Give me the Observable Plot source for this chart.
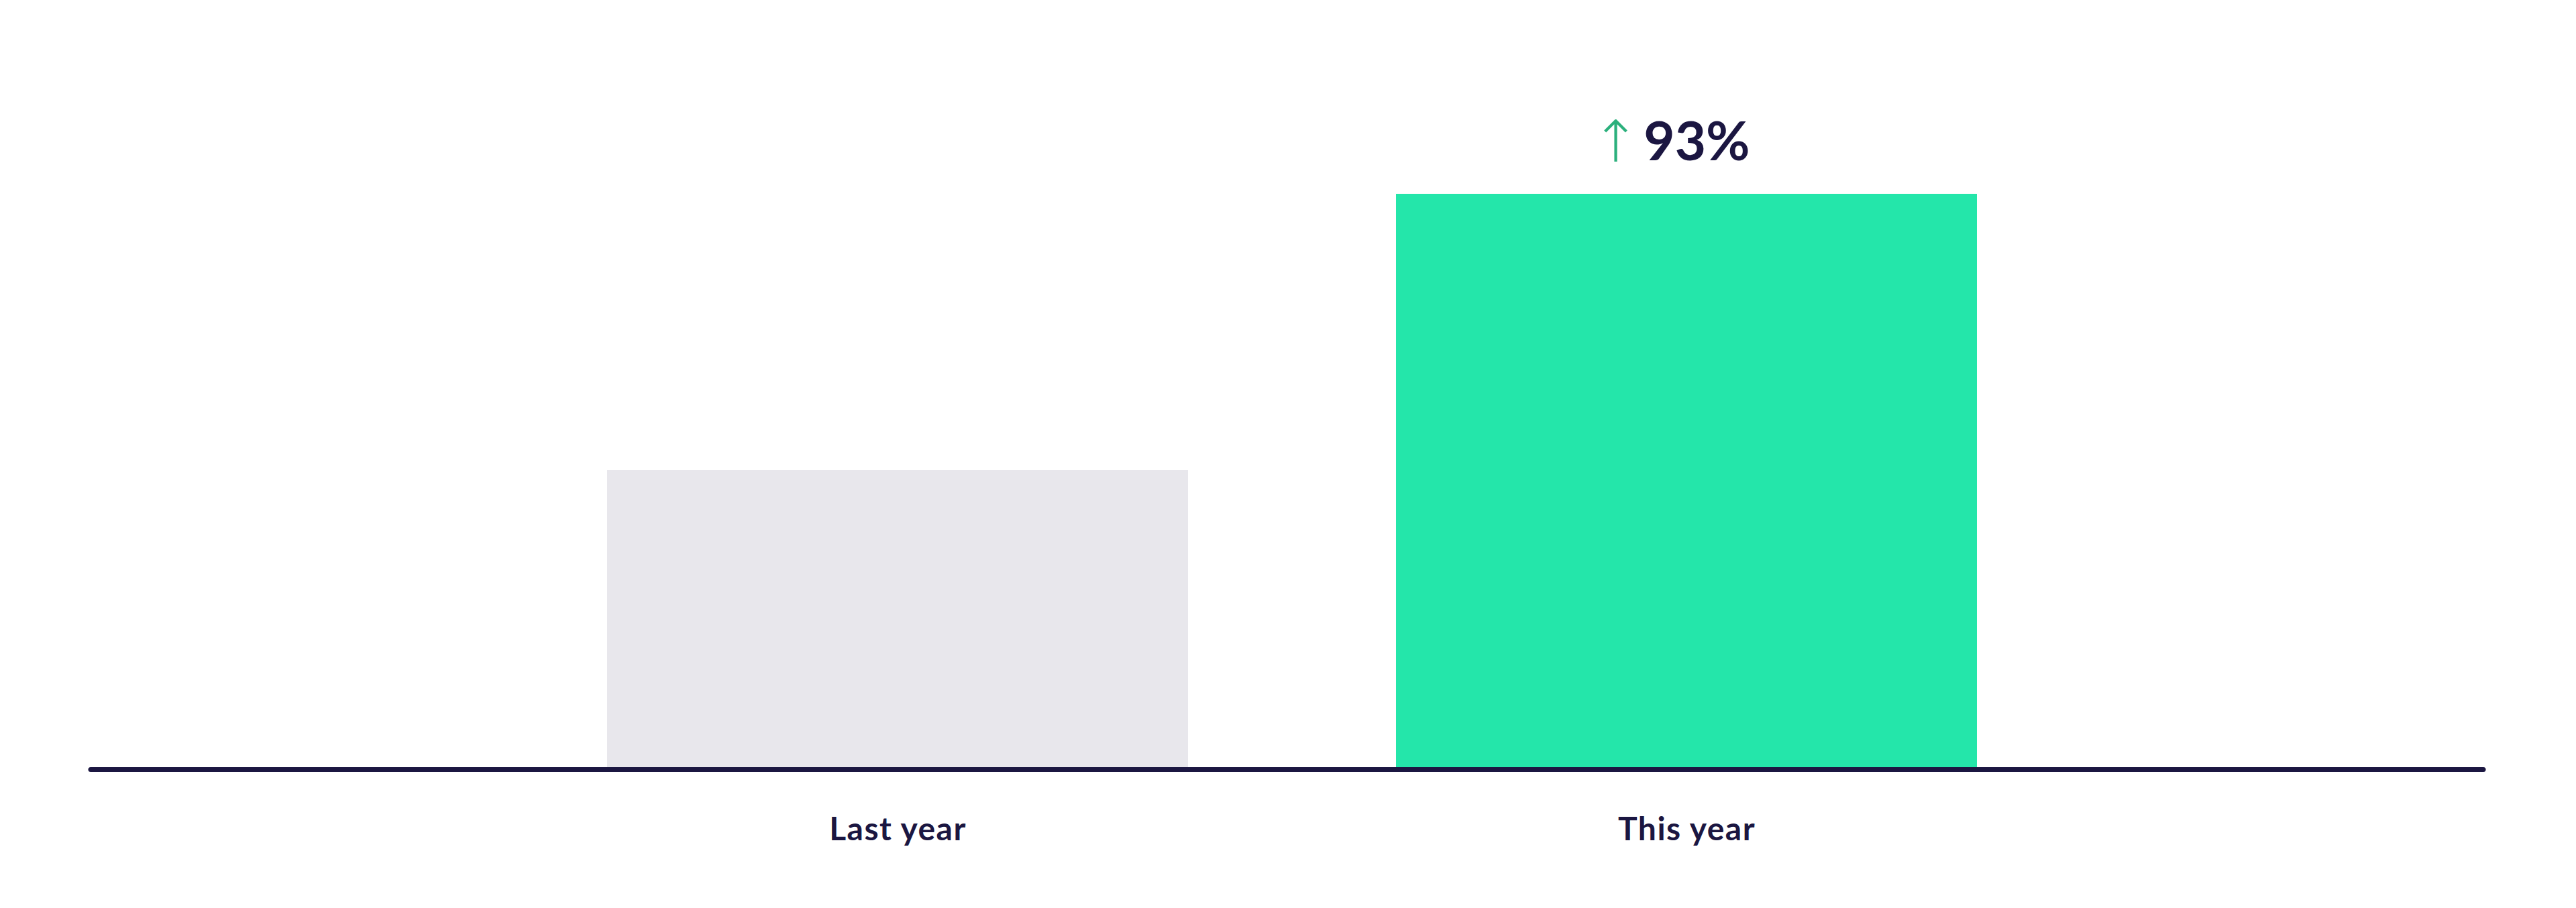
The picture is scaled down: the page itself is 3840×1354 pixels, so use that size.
<!DOCTYPE html>
<html>
<head>
<meta charset="utf-8">
<script src="https://cdn.jsdelivr.net/npm/d3@7"></script>
<script src="https://cdn.jsdelivr.net/npm/@observablehq/plot@0.6"></script>
<style>
  html, body { margin: 0; padding: 0; background: #ffffff; }
  #chart svg { display: block; }
  #chart svg g[aria-label="x-axis tick label"] text { letter-spacing: 1.5px; }
</style>
</head>
<body>
<div id="chart"></div>
<script>
const periods = ["Last year", "This year"];
const values = [100, 193];
const barColors = ["#e8e7ec", "#24e6aa"];
const changeText = ["93%"];
const changeArrow = ["↑"];

const data = periods.map((p, i) => ({period: p, value: values[i]}));
const last = data[data.length - 1];

const navy = "#1b1641";

const chart = Plot.plot({
  width: 3840,
  height: 1354,
  marginTop: 289,
  marginBottom: 210,
  marginLeft: 135,
  marginRight: 138,
  style: {fontFamily: "Lato, 'Open Sans', sans-serif", background: "#ffffff"},
  x: {domain: periods, paddingInner: 0.264, paddingOuter: 0.6475, align: 0.505},
  y: {domain: [0, 193], axis: null},
  color: {domain: periods, range: barColors},
  marks: [
    Plot.barY(data, {x: "period", y: "value", fill: "period"}),
    Plot.ruleY([0], {stroke: navy, strokeWidth: 7, strokeLinecap: "round", dy: 3}),
    Plot.axisX({tickSize: 0, tickPadding: 74, fontSize: 48, fontWeight: 700, fill: navy, label: null}),
    Plot.text([last], {x: "period", y: "value", text: () => changeText[0], lineAnchor: "bottom", dy: -51, dx: 15, fontSize: 80, fontWeight: 700, fill: navy}),
    Plot.text([last], {x: "period", y: "value", text: () => changeArrow[0], lineAnchor: "bottom", dy: -49, dx: -106, fontSize: 86, fontWeight: 300, fill: "#2bb07c", fontFamily: "DejaVu Sans"})
  ]
});
document.getElementById("chart").appendChild(chart);
</script>
</body>
</html>
